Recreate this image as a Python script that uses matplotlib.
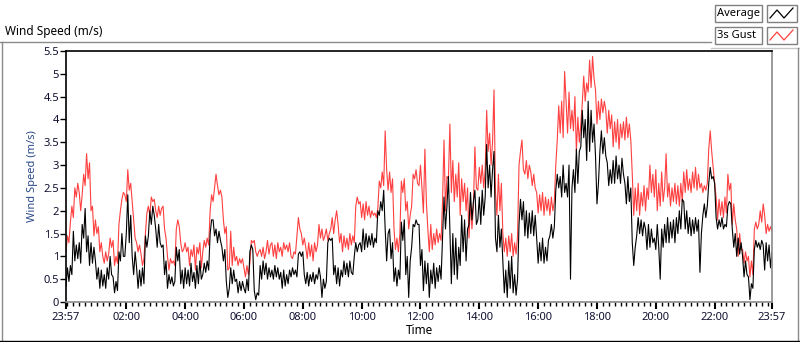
import numpy as np
import matplotlib.pyplot as plt
from matplotlib.lines import Line2D
from matplotlib.patches import Rectangle

# wind speed sampled every 3 minutes from 23:57 to 23:57 (one row = one hour)
gust = [
    1.1, 1.45, 1.3, 1.75, 2.1, 1.85, 2.5, 2.3, 2.6, 2.4, 2.0, 2.35, 2.8, 2.55, 3.25, 2.7, 3.05, 2.0, 2.1, 1.45,
    1.8, 1.5, 1.65, 1.1, 1.3, 1.0, 0.85, 1.1, 0.9, 1.05, 1.4, 1.2, 1.35, 0.8, 1.0, 0.85, 1.7, 2.0, 2.25, 2.4,
    2.35, 2.2, 2.9, 2.45, 2.6, 2.2, 1.8, 1.4, 1.3, 1.1, 1.25, 1.05, 0.8, 0.95, 1.5, 1.95, 2.1, 1.9, 2.3, 2.2,
    2.25, 2.0, 1.85, 2.1, 1.9, 2.05, 2.1, 1.6, 1.4, 1.0, 0.7, 0.95, 0.85, 0.9, 0.8, 1.6, 1.8, 1.65, 1.3, 1.1,
    1.15, 1.3, 1.1, 1.2, 0.8, 1.15, 1.0, 1.25, 0.7, 1.2, 1.05, 1.3, 0.75, 1.1, 1.35, 1.2, 1.4, 1.25, 2.0, 2.35,
    2.2, 2.5, 2.8, 2.55, 2.35, 2.45, 2.3, 1.8, 1.5, 1.65, 0.7, 0.75, 1.55, 0.8, 1.2, 0.9, 1.0, 0.8, 0.95, 0.85,
    0.95, 0.75, 0.55, 0.8, 0.6, 0.85, 1.35, 1.3, 1.35, 1.1, 1.0, 1.1, 1.15, 1.0, 1.2, 0.95, 1.1, 1.35, 1.05, 1.25,
    1.3, 1.0, 1.25, 0.95, 1.3, 1.1, 1.2, 1.0, 1.3, 1.15, 1.25, 1.1, 1.3, 1.0, 0.95, 1.1, 1.05, 1.45, 1.85, 1.6,
    1.5, 1.25, 1.4, 1.2, 0.95, 1.3, 1.0, 1.25, 0.9, 1.3, 1.1, 1.25, 1.7, 1.4, 1.6, 1.35, 1.45, 1.6, 1.35, 1.5,
    1.6, 1.85, 1.5, 1.8, 2.0, 1.7, 1.3, 1.5, 1.1, 1.45, 1.2, 1.4, 1.15, 1.5, 1.25, 1.45, 1.3, 2.1, 2.3, 2.15,
    2.2, 1.85, 2.15, 1.8, 2.2, 1.9, 2.1, 1.85, 2.0, 1.9, 1.95, 1.85, 2.05, 2.65, 2.5, 2.85, 2.55, 3.75, 2.9, 2.45,
    2.85, 2.4, 2.7, 1.6, 1.15, 1.4, 1.1, 1.5, 2.65, 2.4, 2.7, 2.0, 2.2, 1.6, 1.9, 2.1, 2.8, 2.7, 2.9, 2.6,
    2.55, 3.0, 2.5, 1.95, 3.35, 2.2, 1.6, 1.1, 1.7, 1.15, 1.5, 1.25, 1.6, 1.3, 1.5, 1.35, 2.2, 3.55, 2.0, 2.75,
    2.7, 3.9, 2.4, 3.1, 2.2, 2.8, 2.3, 3.05, 1.9, 2.7, 2.2, 2.6, 2.0, 2.5, 1.4, 2.2, 1.6, 2.1, 3.4, 2.5,
    2.45, 2.95, 2.6, 3.0, 2.5, 2.9, 4.2, 3.3, 3.7, 3.0, 3.5, 4.65, 2.4, 1.9, 2.8, 2.0, 2.6, 1.5, 1.1, 1.4,
    1.0, 1.45, 1.1, 1.5, 1.0, 1.3, 1.05, 1.45, 3.0, 3.3, 3.55, 2.9, 2.8, 3.1, 2.7, 3.0, 2.85, 2.55, 2.8, 2.5,
    2.4, 1.95, 2.35, 2.0, 2.4, 1.9, 2.3, 2.0, 2.25, 1.9, 2.3, 2.0, 2.2, 3.0, 3.55, 4.3, 3.7, 4.4, 3.6, 5.05,
    4.4, 3.7, 4.6, 3.8, 4.2, 3.75, 4.5, 3.3, 4.05, 3.5, 3.9, 4.35, 4.95, 4.4, 4.8, 4.6, 5.3, 4.7, 5.38, 4.9,
    4.65, 3.9, 4.4, 4.0, 4.45, 4.15, 4.4, 4.2, 3.7, 4.2, 3.8, 4.1, 3.4, 3.95, 3.5, 4.0, 3.35, 3.9, 3.6, 3.95,
    3.55, 4.05, 3.6, 3.9, 3.55, 2.8, 1.9, 2.5, 2.0, 2.6, 1.9, 2.4, 2.1, 2.55, 2.0, 2.5, 2.25, 3.0, 2.4, 2.8,
    2.3, 2.9, 2.0, 2.6, 2.1, 2.85, 2.2, 2.5, 3.25, 2.3, 2.6, 2.1, 2.5, 2.2, 2.6, 2.15, 2.55, 2.1, 2.6, 2.2,
    2.85, 2.4, 2.9, 2.45, 2.7, 2.4, 2.85, 2.5, 2.95, 2.45, 2.8, 2.5, 2.6, 2.4, 2.55, 2.45, 2.6, 3.35, 3.75, 3.3,
    2.95, 2.6, 2.3, 1.8, 2.25, 1.9, 2.2, 1.85, 2.3, 1.95, 2.8, 2.45, 2.6, 1.7, 2.15, 1.8, 1.6, 1.0, 1.5, 1.15,
    1.15, 0.85, 1.1, 0.9, 1.0, 0.55, 0.9, 0.6, 1.6, 1.75, 1.6, 1.7, 2.0, 1.75, 2.15, 1.9, 1.5, 1.7, 1.55, 1.65,
    1.55,
]
average = [
    0.35, 0.75, 0.45, 0.8, 0.6, 1.55, 0.9, 1.25, 0.95, 1.3, 0.85, 1.7, 1.4, 2.05, 1.1, 1.45, 0.8, 1.3, 0.85, 1.2,
    0.9, 0.5, 0.75, 0.3, 0.7, 0.35, 0.6, 0.3, 0.75, 0.5, 1.0, 0.6, 0.55, 0.2, 0.45, 0.25, 1.1, 0.9, 1.5, 1.0,
    1.0, 1.5, 2.35, 1.3, 1.9, 1.0, 0.6, 1.1, 0.75, 0.3, 0.7, 0.35, 0.75, 0.4, 1.45, 1.2, 1.45, 2.0, 1.7, 2.1,
    1.9, 1.6, 1.2, 1.7, 1.3, 1.2, 1.25, 0.6, 0.9, 0.3, 0.6, 0.4, 0.55, 0.35, 0.45, 1.2, 0.9, 1.15, 0.4, 0.7,
    0.3, 0.75, 0.4, 0.7, 0.35, 0.85, 0.45, 0.65, 0.3, 0.8, 0.4, 0.9, 0.5, 0.6, 0.85, 0.65, 0.9, 0.7, 1.5, 1.8,
    1.8, 1.45, 1.6, 1.3, 1.55, 1.35, 1.2, 0.9, 1.15, 0.45, 0.1, 0.3, 0.75, 0.4, 0.7, 0.45, 0.5, 0.2, 0.45, 0.25,
    0.45, 0.3, 0.2, 0.5, 0.25, 1.1, 1.25, 1.15, 0.25, 0.05, 0.2, 0.15, 0.8, 0.5, 0.9, 0.6, 0.85, 0.5, 0.75, 0.55,
    0.7, 0.5, 0.8, 0.55, 0.75, 0.5, 0.65, 0.3, 0.7, 0.35, 0.6, 0.4, 0.7, 0.55, 0.75, 0.6, 0.7, 0.55, 1.05, 1.1,
    1.0, 1.1, 0.6, 0.4, 0.65, 0.35, 0.6, 0.45, 0.65, 0.4, 0.6, 0.5, 0.75, 0.55, 0.1, 0.5, 0.3, 0.45, 1.3, 1.4,
    1.35, 1.4, 0.6, 0.8, 0.4, 0.75, 0.35, 0.7, 0.55, 0.9, 0.6, 0.85, 0.55, 0.9, 0.65, 0.6, 1.0, 1.3, 1.1, 1.25,
    1.3, 1.1, 1.6, 1.15, 1.5, 1.2, 1.45, 1.25, 1.5, 1.2, 1.4, 1.3, 2.0, 1.9, 2.2, 2.0, 2.45, 1.6, 0.9, 1.5,
    1.6, 0.95, 1.3, 0.45, 0.75, 0.35, 0.7, 0.5, 1.75, 1.35, 1.8, 0.6, 1.0, 0.1, 0.9, 1.2, 1.7, 1.65, 1.8, 1.7,
    1.7, 0.8, 1.15, 0.25, 0.9, 0.4, 0.85, 0.1, 0.7, 0.4, 0.85, 0.3, 0.75, 0.45, 0.8, 0.5, 1.4, 2.3, 1.6, 2.1,
    2.75, 1.6, 0.4, 1.5, 0.6, 1.4, 0.5, 1.2, 0.8, 1.9, 1.1, 1.8, 0.9, 1.6, 1.7, 2.4, 1.8, 2.2, 2.45, 1.7,
    1.8, 2.3, 1.7, 2.45, 1.9, 2.3, 3.45, 2.5, 3.0, 2.3, 2.9, 3.3, 1.4, 1.1, 1.9, 1.2, 1.6, 0.9, 0.2, 0.7,
    0.1, 0.9, 0.3, 1.0, 0.2, 0.6, 0.15, 0.5, 1.7, 2.25, 1.8, 2.2, 1.45, 2.0, 1.4, 1.95, 1.5, 2.0, 1.45, 1.9,
    1.4, 0.85, 1.3, 0.9, 1.4, 0.85, 1.2, 0.9, 1.35, 1.45, 1.7, 1.4, 1.65, 2.45, 2.8, 2.5, 2.75, 2.3, 3.0, 2.4,
    2.6, 2.3, 3.0, 0.5, 2.5, 2.9, 2.4, 3.35, 2.6, 3.3, 3.4, 4.2, 3.6, 4.0, 3.1, 4.4, 3.3, 4.2, 3.5, 3.9,
    3.2, 2.15, 2.6, 3.3, 3.75, 3.25, 3.6, 3.2, 3.05, 2.55, 2.9, 2.6, 3.1, 2.6, 3.2, 2.7, 3.0, 2.6, 3.15, 2.8,
    2.6, 2.15, 2.75, 2.2, 2.5, 1.3, 0.8, 1.2, 1.45, 1.85, 1.5, 1.8, 1.45, 1.75, 1.6, 1.15, 1.7, 1.2, 1.6, 1.3,
    1.4, 1.15, 1.7, 1.2, 0.5, 1.6, 1.2, 1.7, 1.3, 1.85, 1.3, 1.75, 1.4, 1.8, 1.3, 1.85, 1.5, 2.0, 1.6, 2.25,
    2.2, 1.6, 2.0, 1.5, 1.85, 1.45, 1.8, 1.5, 1.85, 1.55, 1.8, 0.65, 1.5, 1.9, 2.15, 1.85, 2.1, 2.6, 2.95, 2.7,
    2.75, 2.6, 1.85, 1.6, 1.8, 1.65, 1.85, 1.6, 1.7, 1.65, 2.1, 2.2, 2.15, 1.6, 1.2, 1.5, 1.0, 1.4, 1.05, 1.3,
    1.0, 0.55, 0.9, 0.6, 0.55, 0.05, 0.4, 0.3, 1.15, 1.35, 1.2, 1.3, 1.15, 1.35, 1.25, 0.7, 1.3, 0.9, 1.25, 0.75,
    1.1,
]
# minutes after 23:57 of the previous day
gust_minutes = np.arange(len(gust)) * 3
avg_minutes = np.arange(len(average)) * 3
tick_pos = [0, 123, 243, 363, 483, 603, 723, 843, 963, 1083, 1203, 1323, 1440]
tick_labels = ["23:57", "02:00", "04:00", "06:00", "08:00", "10:00", "12:00",
               "14:00", "16:00", "18:00", "20:00", "22:00", "23:57"]

plt.rcParams['font.family'] = ['Noto Sans', 'DejaVu Sans']

fig = plt.figure(figsize=(8, 3.42), dpi=100)
ax = fig.add_axes([66 / 800, 1 - 302 / 342, 706 / 800, 251 / 342])

ax.plot(gust_minutes, gust, color="#ff4040", lw=0.8)
ax.plot(avg_minutes, average, color="black", lw=0.8)

ax.set_xlim(0, 1440)
ax.set_ylim(0, 5.5)
ax.set_yticks(np.arange(0, 5.51, 0.5))
ax.set_yticklabels([f"{v:g}" for v in np.arange(0, 5.51, 0.5)])
ax.set_xticks(tick_pos)
ax.set_xticklabels(tick_labels)
ax.set_xticks(np.arange(3, 1440, 12), minor=True)
ax.tick_params(axis="both", labelsize=8, colors="black", labelcolor="#101030")
ax.tick_params(axis="x", which="major", direction="out", length=5, width=1.5, pad=2)
ax.tick_params(axis="x", which="minor", direction="out", length=3, width=1)
ax.tick_params(axis="y", direction="out", length=4, width=1, pad=1)

for side in ["left", "top"]:
    ax.spines[side].set_color("black")
    ax.spines[side].set_linewidth(1.2)
for side in ["right", "bottom"]:
    ax.spines[side].set_color("#8a8a8a")
    ax.spines[side].set_linewidth(1.2)

ax.set_ylabel("Wind Speed (m/s)", fontsize=8, color="#2a4a8a", labelpad=4)
ax.set_xlabel("Time", fontsize=8.5, labelpad=1)

# outer panel frame and title
fig.text(5 / 800, 1 - 31 / 342, "Wind Speed (m/s)", fontsize=8.5, va="center", ha="left")
fig.add_artist(Line2D([0, 711 / 800], [1 - 42 / 342] * 2, color="#8a8a8a", lw=1))
fig.add_artist(Line2D([711 / 800, 1], [1 - 48 / 342] * 2, color="#c8c8c8", lw=1))
fig.add_artist(Line2D([1.5 / 800] * 2, [1 - 42 / 342, 1 - 340 / 342], color="#8a8a8a", lw=1))
fig.add_artist(Line2D([797.5 / 800] * 2, [1 - 48 / 342, 1 - 340 / 342], color="#8a8a8a", lw=1))
fig.add_artist(Line2D([0, 1], [1 - 340.5 / 342] * 2, color="black", lw=1))

# legend boxes
legend_items = [("Average", "black", 5), ("3s Gust", "#ff4040", 27)]
for label, color, top in legend_items:
    y0 = 1 - (top + 17) / 342
    h = 17 / 342
    fig.add_artist(Rectangle((715 / 800, y0), 47 / 800, h, transform=fig.transFigure,
                             facecolor="white", edgecolor="#808080", lw=1))
    fig.text(717 / 800, y0 + h / 2, label, fontsize=8, va="center", ha="left")
    fig.add_artist(Rectangle((767 / 800, y0), 30 / 800, h, transform=fig.transFigure,
                             facecolor="white", edgecolor="#808080", lw=1))
    zx = np.array([770, 777, 784, 793]) / 800
    zy = 1 - (top + np.array([13, 5, 13, 3])) / 342
    fig.add_artist(Line2D(zx, zy, color=color, lw=0.9))

fig.savefig("out.png", dpi=100)
